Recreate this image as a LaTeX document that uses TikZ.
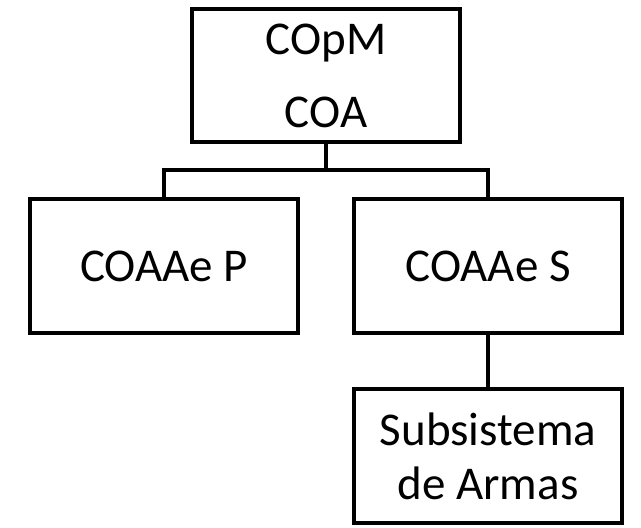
\documentclass[tikz,border=0pt]{standalone}
\usepackage{fontspec}
\setmainfont{Carlito}
\begin{document}
\begin{tikzpicture}[x=1pt,y=-1pt,
  box/.style={draw, line width=4.5pt, minimum width=268pt, minimum height=134pt,
    inner sep=0pt, align=center, font=\fontsize{47}{54}\selectfont},
  link/.style={line width=4.5pt}]
\useasboundingbox (0,0) rectangle (641,528);
% boxes of the hierarchy
\node[box, minimum height=133pt] (top) at (326,75.5) {COpM\\[19pt]COA};
\node[box] (pri) at (164,266) {COAAe P};
\node[box] (sec) at (488,266) {COAAe S};
\node[box] (sub) at (488,456) {Subsistema\\de Armas};
% branching connectors
\coordinate (split) at (326,170);
\draw[link] (top.south) -- (split);
\draw[link] (pri.north) |- (split) -| (sec.north);
\draw[link] (sec.south) -- (sub.north);
\end{tikzpicture}
\end{document}
